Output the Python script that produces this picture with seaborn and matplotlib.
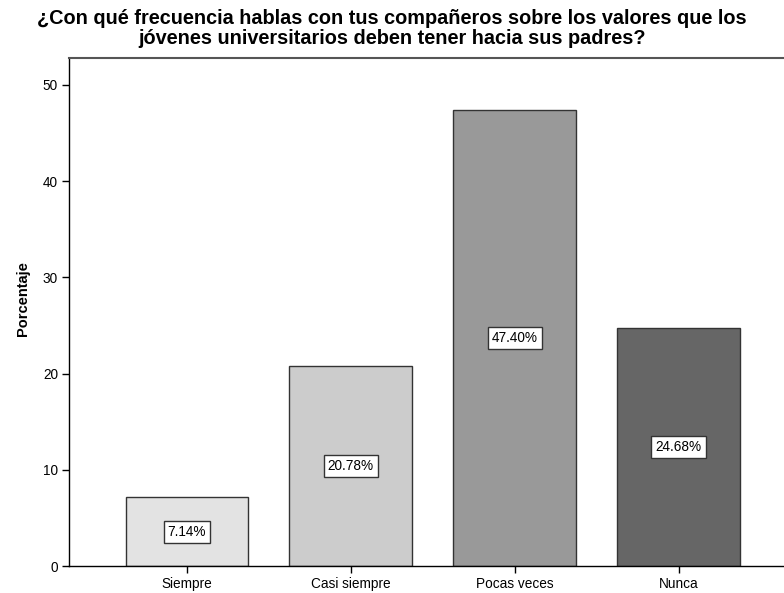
import matplotlib
matplotlib.use("Agg")
import matplotlib.pyplot as plt
import seaborn as sns
import pandas as pd

categorias = ["Siempre", "Casi siempre", "Pocas veces", "Nunca"]
porcentajes = [7.14, 20.78, 47.40, 24.68]
colores = ["#e3e3e3", "#cccccc", "#999999", "#666666"]
titulo = ("¿Con qué frecuencia hablas con tus compañeros sobre los valores que los\n"
          "jóvenes universitarios deben tener hacia sus padres?")

if __name__ == "__main__":
    sns.set_style("white")
    plt.rcParams["font.family"] = ["Liberation Sans", "DejaVu Sans"]
    plt.rcParams["text.color"] = "black"
    plt.rcParams["axes.labelcolor"] = "black"

    datos = pd.DataFrame({"categoria": categorias, "porcentaje": porcentajes})

    fig = plt.figure(figsize=(7.84, 5.93), dpi=100)
    ax = fig.add_axes([0.088, 0.0455, 0.928, 0.857])
    sns.barplot(data=datos, x="categoria", y="porcentaje", hue="categoria",
                palette=colores, legend=False, width=0.75, saturation=1,
                edgecolor="#333333", linewidth=1.0, ax=ax)

    for i, v in enumerate(porcentajes):
        ax.text(i, v / 2, f"{v:.2f}%", ha="center", va="center", fontsize=9.8,
                color="black",
                bbox=dict(boxstyle="square,pad=0.3", facecolor="white",
                          edgecolor="#333333", linewidth=1.0))

    ax.set_xlim(-0.72, 3.72)
    ax.set_ylim(0, 52.8)
    ax.set_yticks([0, 10, 20, 30, 40, 50])
    ax.set_xlabel("")
    ax.set_ylabel("Porcentaje", fontsize=10.5, fontweight="bold")
    ax.yaxis.set_label_coords(-0.053, 0.527)
    ax.tick_params(axis="both", direction="out", length=5, width=1,
                   colors="black", labelsize=9.8, left=True, bottom=True, pad=3)
    for lado in ["left", "bottom"]:
        ax.spines[lado].set_color("black")
        ax.spines[lado].set_linewidth(1.0)
    ax.spines["top"].set_color("#555555")
    ax.spines["top"].set_linewidth(1.5)
    ax.spines["right"].set_visible(False)

    fig.text(0.5, 0.985, titulo, ha="center", va="top", fontsize=14.3,
             fontweight="bold", linespacing=1.1, color="black")
    fig.savefig("out.png", dpi=100)
    plt.close()
